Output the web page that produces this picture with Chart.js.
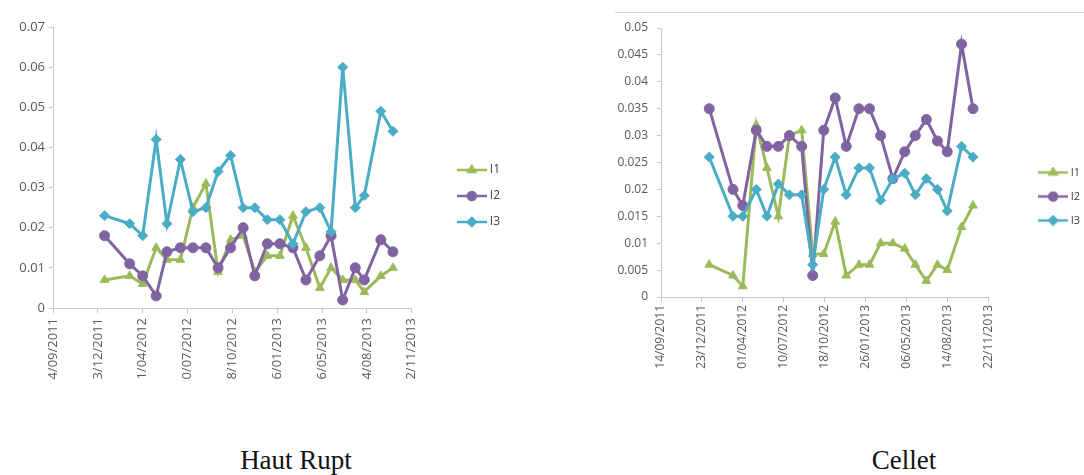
<!DOCTYPE html>
<html>
<head>
<meta charset="utf-8">
<script src="https://cdn.jsdelivr.net/npm/chart.js@4.4.1/dist/chart.umd.min.js"></script>
<style>
body { margin: 0; width: 1084px; height: 475px; background: #fff; position: relative; overflow: hidden; }
.wrap { position: absolute; top: 0; overflow: hidden; }
#wrapHR { left: 0; width: 510px; height: 395px; }
#wrapCE { left: 600px; width: 484px; height: 395px; }
.topline { position: absolute; left: 615px; top: 12px; width: 469px; border-top: 1px solid #d6d6d6; }
.caption { position: absolute; top: 447px; width: 300px; text-align: center; font-family: 'Liberation Serif', serif; font-size: 27px; line-height: 27px; color: #111; }
</style>
</head>
<body>
<div class="topline"></div>
<div class="wrap" id="wrapHR"><canvas id="hautRupt" width="510" height="395"></canvas></div>
<div class="wrap" id="wrapCE"><canvas id="cellet" width="490" height="395"></canvas></div>
<div class="caption" style="left:146px">Haut Rupt</div>
<div class="caption" style="left:754px">Cellet</div>
<script>
// sampling dates
const datesHautRupt = ['07/01/2012','03/03/2012','01/04/2012','01/05/2012','25/05/2012','24/06/2012','22/07/2012','20/08/2012','16/09/2012','14/10/2012','11/11/2012','07/12/2012','04/01/2013','01/02/2013','02/03/2013','31/03/2013','01/05/2013','26/05/2013','21/06/2013','19/07/2013','08/08/2013','14/09/2013','11/10/2013'];
const hautRuptI1 = [0.007,0.008,0.006,0.015,0.012,0.012,0.025,0.031,0.009,0.017,0.018,0.009,0.013,0.013,0.023,0.015,0.005,0.010,0.007,0.007,0.004,0.008,0.010];
const hautRuptI2 = [0.018,0.011,0.008,0.003,0.014,0.015,0.015,0.015,0.010,0.015,0.020,0.008,0.016,0.016,0.015,0.007,0.013,0.018,0.002,0.010,0.007,0.017,0.014];
const hautRuptI3 = [0.023,0.021,0.018,0.042,0.021,0.037,0.024,0.025,0.034,0.038,0.025,0.025,0.022,0.022,0.016,0.024,0.025,0.019,0.060,0.025,0.028,0.049,0.044];

const datesCellet = ['10/01/2012','08/03/2012','01/04/2012','04/05/2012','30/05/2012','27/06/2012','24/07/2012','23/08/2012','19/09/2012','16/10/2012','13/11/2012','10/12/2012','10/01/2013','05/02/2013','04/03/2013','03/04/2013','02/05/2013','28/05/2013','24/06/2013','21/07/2013','14/08/2013','18/09/2013','16/10/2013'];
const celletI1 = [0.006,0.004,0.002,0.032,0.024,0.015,0.030,0.031,0.008,0.008,0.014,0.004,0.006,0.006,0.010,0.010,0.009,0.006,0.003,0.006,0.005,0.013,0.017];
const celletI2 = [0.035,0.020,0.017,0.031,0.028,0.028,0.030,0.028,0.004,0.031,0.037,0.028,0.035,0.035,0.030,0.022,0.027,0.030,0.033,0.029,0.027,0.047,0.035];
const celletI3 = [0.026,0.015,0.015,0.020,0.015,0.021,0.019,0.019,0.006,0.020,0.026,0.019,0.024,0.024,0.018,0.022,0.023,0.019,0.022,0.020,0.016,0.028,0.026];

const seriesNames = ['I1', 'I2', 'I3'];
const axisStart = '14/09/2011';
const axisEnd = '22/11/2013';

const colors = ['#9bbb59', '#8064a2', '#4bacc6'];
const markers = ['triangle', 'circle', 'rectRot'];

function dayNum(s) {
    const [d, m, y] = s.split('/').map(Number);
    return Date.UTC(y, m - 1, d) / 86400000;
}
function fmtDay(v) {
    const dt = new Date(v * 86400000);
    const p = n => String(n).padStart(2, '0');
    return p(dt.getUTCDate()) + '/' + p(dt.getUTCMonth() + 1) + '/' + dt.getUTCFullYear();
}

// small line+marker picture for the legend, like the spreadsheet legend
function legendIcon(i) {
    const c = document.createElement('canvas');
    c.width = 30; c.height = 12;
    const g = c.getContext('2d');
    g.strokeStyle = colors[i];
    g.fillStyle = colors[i];
    g.lineWidth = 2.5;
    g.beginPath(); g.moveTo(0, 6); g.lineTo(30, 6); g.stroke();
    Chart.helpers.drawPoint(g, {pointStyle: markers[i], radius: 4, borderWidth: 1}, 15, 6);
    return c;
}
const icons = [0, 1, 2].map(legendIcon);

function makeChart(id, dates, values, cfg) {
    const datasets = values.map((vals, i) => ({
        label: seriesNames[i],
        data: vals.map((v, k) => ({x: dayNum(dates[k]), y: v})),
        borderColor: colors[i],
        backgroundColor: colors[i],
        borderWidth: 3,
        pointStyle: markers[i],
        pointRadius: 5,
        pointBorderWidth: 1,
        order: 2 - i
    }));
    return new Chart(document.getElementById(id), {
        type: 'line',
        data: {datasets},
        options: {
            responsive: false,
            animation: false,
            layout: {padding: {top: cfg.top, bottom: cfg.bottom, left: 0, right: 0}},
            scales: {
                x: {
                    type: 'linear',
                    min: dayNum(axisStart),
                    max: dayNum(axisEnd),
                    // the axis box also clips the rotated labels, as in the source picture
                    afterFit: s => { s.height = cfg.xHeight; },
                    border: {color: '#c8c8c8'},
                    grid: {display: true, drawOnChartArea: false, drawTicks: true, tickLength: 5, color: '#c8c8c8'},
                    ticks: {
                        stepSize: 100, autoSkip: false, minRotation: 90, maxRotation: 90,
                        padding: cfg.xPad, color: '#595959',
                        font: {family: "'Open Sans'", size: cfg.font},
                        callback: v => fmtDay(v)
                    }
                },
                y: {
                    min: 0,
                    max: cfg.yMax,
                    afterFit: s => { s.width = cfg.yWidth; },
                    border: {color: '#c8c8c8'},
                    grid: {display: true, drawOnChartArea: false, drawTicks: true, tickLength: 4, color: '#c8c8c8'},
                    ticks: {
                        stepSize: cfg.yStep, padding: cfg.yPad, color: '#595959',
                        font: {family: "'Open Sans'", size: cfg.font},
                        callback: v => String(Number(v.toFixed(3)))
                    }
                },
                gap: {
                    position: 'right',
                    afterFit: s => { s.width = cfg.gap; },
                    grid: {display: false},
                    border: {display: false},
                    ticks: {display: false}
                }
            },
            plugins: {
                tooltip: {enabled: false},
                legend: {
                    position: 'right',
                    align: 'start',
                    // empty title only used to push the entries down to mid height
                    title: {display: true, text: '', font: {size: 10, lineHeight: 1}, padding: {top: cfg.legendTop, bottom: 0}},
                    labels: {
                        usePointStyle: true,
                        pointStyleWidth: 24,
                        padding: cfg.legendPad,
                        color: '#404040',
                        font: {family: "'Open Sans'", size: cfg.legendFont},
                        sort: (a, b) => a.datasetIndex - b.datasetIndex,
                        generateLabels: chart => Chart.defaults.plugins.legend.labels.generateLabels(chart)
                            .map(l => Object.assign(l, {pointStyle: icons[l.datasetIndex]}))
                    }
                }
            }
        }
    });
}

makeChart('hautRupt', datesHautRupt, [hautRuptI1, hautRuptI2, hautRuptI3], {
    top: 27, bottom: 15, xHeight: 72, yWidth: 53, yMax: 0.07, yStep: 0.01,
    font: 13, xPad: 5, yPad: 4, gap: 34, legendPad: 14, legendFont: 12, legendTop: 113
});
makeChart('cellet', datesCellet, [celletI1, celletI2, celletI3], {
    top: 28, bottom: 10, xHeight: 88, yWidth: 61, yMax: 0.05, yStep: 0.005,
    font: 12, xPad: 3, yPad: 9, gap: 40, legendPad: 13, legendFont: 11, legendTop: 116
});
</script>
</body>
</html>
